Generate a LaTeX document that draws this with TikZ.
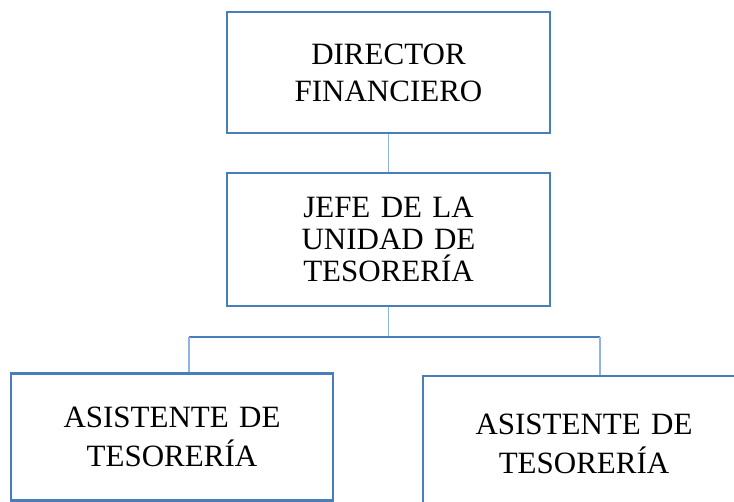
\documentclass[tikz,border=0pt]{standalone}
\usepackage{fontspec}
\setmainfont{Liberation Serif}
\definecolor{boxblue}{HTML}{4A7EBB}
\definecolor{linkblue}{HTML}{8EB4E3}
\begin{document}
\begin{tikzpicture}[x=1pt,y=-1pt,
  orgbox/.style={draw=boxblue, line width=2.2pt, inner sep=0pt, align=center, text width=300pt},
  conn/.style={draw=linkblue, line width=1.4pt},
  bus/.style={draw=boxblue, line width=2pt}]
\useasboundingbox (0,0) rectangle (734,501);
\node[orgbox, minimum width=323pt, minimum height=121pt, font=\fontsize{31}{37}\selectfont] (dir) at (388.5,72.5) {DIRECTOR\\FINANCIERO};
\node[orgbox, minimum width=323pt, minimum height=133pt, font=\fontsize{31}{32}\selectfont] (jefe) at (388.5,239.5) {JEFE DE LA\\UNIDAD DE\\TESORERÍA};
\node[orgbox, minimum width=322pt, minimum height=127pt, font=\fontsize{31}{39}\selectfont] (left) at (172,437) {ASISTENTE DE\\TESORERÍA};
\node[orgbox, minimum width=322pt, minimum height=135pt, font=\fontsize{31}{39}\selectfont] (right) at (584,443.5) {ASISTENTE DE\\TESORERÍA};
\coordinate (bus) at (388.5,337);
\coordinate (bl) at (189,337);
\coordinate (br) at (600,337);
\draw[conn] (dir.south) -- (jefe.north);
\draw[conn] (jefe.south) -- (bus);
\draw[bus] (bl) -- (br);
\draw[conn] (bl) -- (bl |- left.north);
\draw[conn] (br) -- (br |- right.north);
\end{tikzpicture}
\end{document}
